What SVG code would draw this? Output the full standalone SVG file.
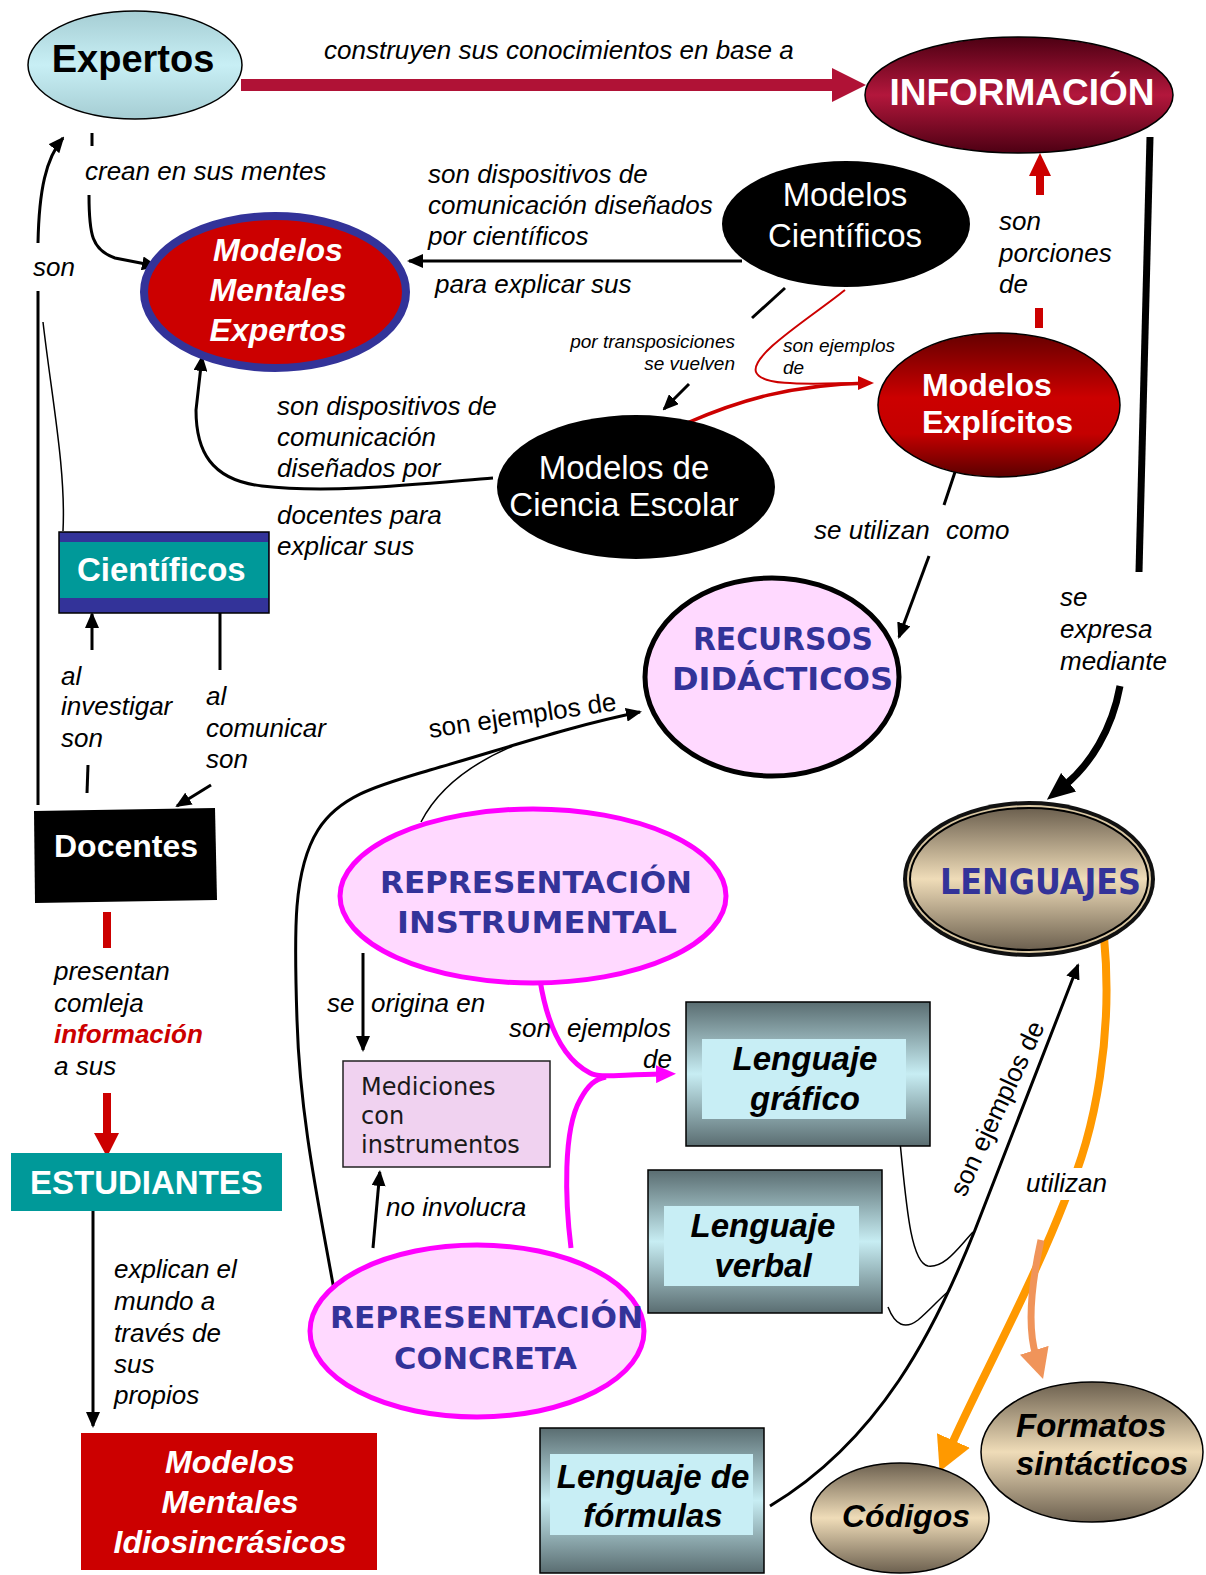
<svg xmlns="http://www.w3.org/2000/svg" width="1206" height="1575" viewBox="0 0 1206 1575">
<defs>
<linearGradient id="gBlue" x1="0" y1="0" x2="0" y2="1"><stop offset="0" stop-color="#a5cdd3"/><stop offset="0.5" stop-color="#c8eff5"/><stop offset="1" stop-color="#a5cdd3"/></linearGradient>
<linearGradient id="gInfo" x1="0" y1="0" x2="0" y2="1"><stop offset="0" stop-color="#4d0013"/><stop offset="0.5" stop-color="#b3173c"/><stop offset="1" stop-color="#4d0013"/></linearGradient>
<linearGradient id="gExpl" x1="0" y1="0" x2="0" y2="1"><stop offset="0" stop-color="#650000"/><stop offset="0.45" stop-color="#cc0000"/><stop offset="0.7" stop-color="#c40000"/><stop offset="1" stop-color="#5a0000"/></linearGradient>
<linearGradient id="gTan" x1="0" y1="0" x2="0" y2="1"><stop offset="0" stop-color="#6c604f"/><stop offset="0.5" stop-color="#efdcb8"/><stop offset="1" stop-color="#6c604f"/></linearGradient>
<linearGradient id="gSlate" x1="0" y1="0" x2="0" y2="1"><stop offset="0" stop-color="#5a6d71"/><stop offset="0.5" stop-color="#c7edf3"/><stop offset="1" stop-color="#5a6d71"/></linearGradient>
<marker id="mA" viewBox="0 0 16 14" refX="14" refY="7" markerWidth="16" markerHeight="14" orient="auto" markerUnits="userSpaceOnUse"><path d="M0,0 L16,7 L0,14 z" fill="#000"/></marker>
<marker id="mBig" viewBox="0 0 28 24" refX="6" refY="12" markerWidth="28" markerHeight="24" orient="auto" markerUnits="userSpaceOnUse"><path d="M0,0 L28,12 L0,24 z" fill="#000"/></marker>
<marker id="mMag" viewBox="0 0 20 18" refX="6" refY="9" markerWidth="20" markerHeight="18" orient="auto" markerUnits="userSpaceOnUse"><path d="M0,0 L20,9 L0,18 z" fill="#ff00ff"/></marker>
<marker id="mRed" viewBox="0 0 16 14" refX="10" refY="7" markerWidth="16" markerHeight="14" orient="auto" markerUnits="userSpaceOnUse"><path d="M0,0 L16,7 L0,14 z" fill="#cc0000"/></marker>
<marker id="mOr" viewBox="0 0 34 36" refX="6" refY="18" markerWidth="34" markerHeight="36" orient="auto" markerUnits="userSpaceOnUse"><path d="M0,0 L34,18 L0,36 z" fill="#ff9900"/></marker>
<marker id="mSal" viewBox="0 0 30 30" refX="6" refY="15" markerWidth="30" markerHeight="30" orient="auto" markerUnits="userSpaceOnUse"><path d="M0,0 L30,15 L0,30 z" fill="#f0945a"/></marker>
</defs>
<style>
text{font-family:"Liberation Sans",Arial,sans-serif}
.lbl{font-size:26px;font-style:italic;fill:#000}
.up{font-size:26px;fill:#000}
.sm{font-size:19px;font-style:italic;fill:#000}
.wb{font-weight:bold;fill:#fff}
.wbi{font-weight:bold;font-style:italic;fill:#fff;font-size:32px}
.wr{fill:#fff;font-size:33px}
.bbi{font-weight:bold;font-style:italic;fill:#000;font-size:33px}
.comic{font-family:"DejaVu Sans",sans-serif;font-weight:bold;fill:#333399}
.med{font-family:"DejaVu Sans",sans-serif;font-size:24px;fill:#1a1a1a}
.ln{fill:none;stroke:#000;stroke-width:3}
.thin{fill:none;stroke:#000;stroke-width:1.5}
.mag{fill:none;stroke:#ff00ff;stroke-width:5}
</style>
<rect width="1206" height="1575" fill="#fff"/>

<g id="connectors">
  <!-- Expertos -> INFORMACION -->
  <rect x="241" y="79" width="592" height="12" fill="#b01236"/>
  <polygon points="832,68 866,85 832,102" fill="#b01236"/>
  <text class="lbl" x="324" y="59">construyen sus conocimientos en base a</text>
  <!-- INFORMACION -> LENGUAJES -->
  <line x1="1150" y1="137" x2="1139" y2="572" stroke="#000" stroke-width="7"/>
  <text class="lbl" x="1060" y="606">se</text>
  <text class="lbl" x="1060" y="638">expresa</text>
  <text class="lbl" x="1060" y="670">mediante</text>
  <path d="M1120,686 C1112,730 1090,765 1064,786" fill="none" stroke="#000" stroke-width="7" marker-end="url(#mBig)"/>
  <!-- Expertos -> MME -->
  <line x1="92" y1="133" x2="92" y2="146" stroke="#000" stroke-width="3"/>
  <text class="lbl" x="85" y="180">crean en sus mentes</text>
  <path class="ln" d="M89,195 C89,235 92,250 115,258 L156,266" marker-end="url(#mA)"/>
  <!-- Modelos Cientificos -> MME -->
  <path class="ln" d="M742,261 L409,261" marker-end="url(#mA)"/>
  <text class="lbl" x="428" y="183">son dispositivos de</text>
  <text class="lbl" x="428" y="214">comunicación diseñados</text>
  <text class="lbl" x="428" y="245">por científicos</text>
  <text class="lbl" x="435" y="293">para explicar sus</text>
  <!-- Cientificos -> Ciencia escolar -->
  <line x1="785" y1="288" x2="752" y2="318" stroke="#000" stroke-width="3"/>
  <text class="sm" x="735" y="348" text-anchor="end">por transposiciones</text>
  <text class="sm" x="735" y="370" text-anchor="end">se vuelven</text>
  <path class="ln" d="M689,384 L664,409" marker-end="url(#mA)"/>
  <!-- red: son ejemplos de -> Modelos Explicitos -->
  <path d="M845,290 C810,318 750,355 756,372 C762,388 820,383 868,383" fill="none" stroke="#cc0000" stroke-width="2" marker-end="url(#mRed)"/>
  <path d="M687,423 C740,400 790,385 868,383" fill="none" stroke="#cc0000" stroke-width="3.5"/>
  <text class="sm" x="783" y="352">son ejemplos</text>
  <text class="sm" x="783" y="374">de</text>
  <!-- Explicitos -> INFORMACION -->
  <rect x="1035" y="308" width="8" height="20" fill="#cc0000"/>
  <rect x="1036" y="175" width="8" height="20" fill="#cc0000"/>
  <polygon points="1029,176 1040,153 1051,176" fill="#cc0000"/>
  <text class="lbl" x="999" y="230">son</text>
  <text class="lbl" x="999" y="262">porciones</text>
  <text class="lbl" x="999" y="293">de</text>
  <!-- Explicitos -> Recursos -->
  <line x1="958" y1="463" x2="944" y2="505" stroke="#000" stroke-width="3"/>
  <text class="lbl" x="814" y="539">se utilizan</text>
  <text class="lbl" x="946" y="539">como</text>
  <path class="ln" d="M929,556 L899,637" marker-end="url(#mA)"/>
  <!-- Docentes -> Expertos (son) -->
  <path class="ln" d="M38,805 L38,291"/>
  <path class="ln" d="M38,243 C39,190 46,158 63,138" marker-end="url(#mA)"/>
  <path class="thin" d="M43,322 C52,400 66,470 63,531"/>
  <text class="lbl" x="33" y="276">son</text>
  <!-- Ciencia escolar -> MME -->
  <path class="ln" d="M493,478 C420,484 330,494 262,486 C210,480 196,450 196,410 L202,357" marker-end="url(#mA)"/>
  <text class="lbl" x="277" y="415">son dispositivos de</text>
  <text class="lbl" x="277" y="446">comunicación</text>
  <text class="lbl" x="277" y="477">diseñados por</text>
  <text class="lbl" x="277" y="524">docentes para</text>
  <text class="lbl" x="277" y="555">explicar sus</text>
  <!-- Docentes -> Cientificos -->
  <path class="ln" d="M92,650 L92,614" marker-end="url(#mA)"/>
  <line x1="88" y1="765" x2="87" y2="793" stroke="#000" stroke-width="3"/>
  <text class="lbl" x="61" y="685">al</text>
  <text class="lbl" x="61" y="715">investigar</text>
  <text class="lbl" x="61" y="747">son</text>
  <line x1="220" y1="613" x2="220" y2="670" stroke="#000" stroke-width="3"/>
  <path class="ln" d="M211,785 L177,806" marker-end="url(#mA)"/>
  <text class="lbl" x="206" y="705">al</text>
  <text class="lbl" x="206" y="737">comunicar</text>
  <text class="lbl" x="206" y="768">son</text>
  <!-- Docentes -> Estudiantes -->
  <rect x="103" y="912" width="8" height="36" fill="#cc0000"/>
  <rect x="103" y="1093" width="8" height="42" fill="#cc0000"/>
  <polygon points="94,1133 107,1157 119,1133" fill="#cc0000"/>
  <text class="lbl" x="54" y="980">presentan</text>
  <text class="lbl" x="54" y="1012">comleja</text>
  <text class="lbl" x="54" y="1043" style="font-weight:bold;fill:#cc0000">información</text>
  <text class="lbl" x="54" y="1075">a sus</text>
  <!-- Estudiantes -> MMI -->
  <path class="ln" d="M93,1207 L93,1426" marker-end="url(#mA)"/>
  <text class="lbl" x="114" y="1278">explican el</text>
  <text class="lbl" x="114" y="1310">mundo a</text>
  <text class="lbl" x="114" y="1342">través de</text>
  <text class="lbl" x="114" y="1373">sus</text>
  <text class="lbl" x="114" y="1404">propios</text>
  <!-- Rep instrumental -> Mediciones -->
  <path class="ln" d="M363,953 L363,1050" marker-end="url(#mA)"/>
  <text class="lbl" x="327" y="1012">se</text>
  <text class="lbl" x="371" y="1012">origina en</text>
  <!-- Rep concreta -> Mediciones -->
  <path class="ln" d="M373,1248 L379.8,1172" marker-end="url(#mA)"/>
  <text class="lbl" x="386" y="1216">no involucra</text>
  <!-- son ejemplos de -> Recursos -->
  <path class="ln" d="M334,1290 C320,1210 300,1120 297,1020 C294,930 293,870 318,830 C340,795 380,785 430,770 C500,750 570,726 640,712" marker-end="url(#mA)"/>
  <path class="thin" d="M421,822 C440,785 475,762 513,746"/>
  <text class="up" transform="translate(430,738) rotate(-8.5)">son ejemplos de</text>
  <!-- magenta son ejemplos de -->
  <path class="mag" d="M540,980 C548,1030 565,1060 590,1073 C600,1078 612,1075 662,1074" marker-end="url(#mMag)"/>
  <path class="mag" d="M571,1248 C565,1200 563,1130 580,1100 C588,1085 595,1079 606,1077"/>
  <text class="lbl" x="509" y="1037">son</text>
  <text class="lbl" x="567" y="1037">ejemplos</text>
  <text class="lbl" x="672" y="1068" text-anchor="end">de</text>
  <!-- lenguajes examples -->
  <path class="thin" d="M900,1142 C906,1200 910,1262 928,1266 C945,1268 958,1248 973,1232"/>
  <path class="thin" d="M888,1307 C895,1325 905,1330 918,1320 C930,1310 940,1298 950,1290"/>
  <path class="ln" d="M770,1506 C880,1440 935,1330 975,1230 L1078,965" marker-end="url(#mA)"/>
  <text class="up" transform="translate(965,1198) rotate(-65)">son ejemplos de</text>
  <!-- utilizan -->
  <path d="M1104,937 C1113,1030 1097,1130 1065,1200 C1030,1290 978,1385 951,1446" fill="none" stroke="#ff9900" stroke-width="8" marker-end="url(#mOr)"/>
  <path d="M1041,1240 C1030,1290 1028,1330 1036,1356" fill="none" stroke="#f0945a" stroke-width="7" marker-end="url(#mSal)"/>
  <rect x="1022" y="1168" width="92" height="32" fill="#fff"/>
  <text class="lbl" x="1026" y="1192">utilizan</text>
</g>

<g id="n-expertos">
  <ellipse cx="135" cy="65" rx="107" ry="54" fill="url(#gBlue)" stroke="#000" stroke-width="1.5"/>
  <text class="wb" x="133" y="72" text-anchor="middle" style="fill:#000;font-size:38px">Expertos</text>
</g>
<g id="n-informacion">
  <ellipse cx="1019" cy="95" rx="154" ry="58" fill="url(#gInfo)" stroke="#000" stroke-width="1.5"/>
  <text class="wb" x="1022" y="105" text-anchor="middle" style="font-size:37px">INFORMACIÓN</text>
</g>
<g id="n-mme">
  <ellipse cx="275" cy="292" rx="131" ry="76" fill="#cc0000" stroke="#333399" stroke-width="8"/>
  <text class="wbi" x="278" y="261" text-anchor="middle">Modelos</text>
  <text class="wbi" x="278" y="301" text-anchor="middle">Mentales</text>
  <text class="wbi" x="278" y="341" text-anchor="middle">Expertos</text>
</g>
<g id="n-cientificos-modelos">
  <ellipse cx="846" cy="224" rx="124" ry="63" fill="#000"/>
  <text class="wr" x="845" y="206" text-anchor="middle">Modelos</text>
  <text class="wr" x="845" y="247" text-anchor="middle">Científicos</text>
</g>
<g id="n-explicitos">
  <ellipse cx="999" cy="405" rx="121" ry="72" fill="url(#gExpl)" stroke="#000" stroke-width="1.5"/>
  <text class="wb" x="922" y="396" style="font-size:32px">Modelos</text>
  <text class="wb" x="922" y="433" style="font-size:32px">Explícitos</text>
</g>
<g id="n-escolar">
  <ellipse cx="636" cy="487" rx="139" ry="72" fill="#000"/>
  <text class="wr" x="624" y="479" text-anchor="middle">Modelos de</text>
  <text class="wr" x="624" y="516" text-anchor="middle">Ciencia Escolar</text>
</g>
<g id="n-cientificos">
  <rect x="59" y="532" width="210" height="81" fill="#333399" stroke="#000" stroke-width="1.5"/>
  <rect x="60" y="542" width="208" height="56" fill="#009999"/>
  <text class="wb" x="77" y="581" style="font-size:33px">Científicos</text>
</g>
<g id="n-recursos">
  <ellipse cx="772" cy="677" rx="127" ry="99" fill="#ffd9ff" stroke="#000" stroke-width="5"/>
  <text class="comic" x="693" y="650" textLength="180" lengthAdjust="spacingAndGlyphs" style="font-size:32px">RECURSOS</text>
  <text class="comic" x="672" y="690" textLength="221" lengthAdjust="spacingAndGlyphs" style="font-size:32px">DIDÁCTICOS</text>
</g>
<g id="n-docentes">
  <polygon points="34,811 215,808 217,900 35,903" fill="#000"/>
  <text class="wb" x="54" y="857" style="font-size:32px">Docentes</text>
</g>
<g id="n-estudiantes">
  <rect x="11" y="1153" width="271" height="58" fill="#009999"/>
  <text class="wb" x="30" y="1194" style="font-size:33px">ESTUDIANTES</text>
</g>
<g id="n-mmi">
  <rect x="81" y="1433" width="296" height="137" fill="#cc0000"/>
  <text class="wbi" x="230" y="1473" text-anchor="middle">Modelos</text>
  <text class="wbi" x="230" y="1513" text-anchor="middle">Mentales</text>
  <text class="wbi" x="230" y="1553" text-anchor="middle">Idiosincrásicos</text>
</g>
<g id="n-rep-instrumental">
  <ellipse cx="533" cy="896" rx="193" ry="87" fill="#ffd9ff" stroke="#ff00ff" stroke-width="5"/>
  <text class="comic" x="380" y="893" textLength="312" lengthAdjust="spacingAndGlyphs" style="font-size:31px">REPRESENTACIÓN</text>
  <text class="comic" x="397" y="933" textLength="280" lengthAdjust="spacingAndGlyphs" style="font-size:31px">INSTRUMENTAL</text>
</g>
<g id="n-mediciones">
  <rect x="343" y="1061" width="207" height="106" fill="#f0d2f0" stroke="#222" stroke-width="1.5"/>
  <text class="med" x="361" y="1095">Mediciones</text>
  <text class="med" x="361" y="1124">con</text>
  <text class="med" x="361" y="1153">instrumentos</text>
</g>
<g id="n-rep-concreta">
  <ellipse cx="477" cy="1331" rx="167" ry="86" fill="#ffd9ff" stroke="#ff00ff" stroke-width="5"/>
  <text class="comic" x="330" y="1328" textLength="313" lengthAdjust="spacingAndGlyphs" style="font-size:31px">REPRESENTACIÓN</text>
  <text class="comic" x="394" y="1369" textLength="183" lengthAdjust="spacingAndGlyphs" style="font-size:31px">CONCRETA</text>
</g>
<g id="n-lenguajes">
  <ellipse cx="1029" cy="879" rx="126" ry="78" fill="#111"/>
  <ellipse cx="1029" cy="879" rx="122" ry="74" fill="#d9c7a3"/>
  <ellipse cx="1029" cy="879" rx="119" ry="71" fill="url(#gTan)" stroke="#000" stroke-width="2"/>
  <text class="comic" x="940" y="894" textLength="201" lengthAdjust="spacingAndGlyphs" style="font-size:35px">LENGUAJES</text>
</g>
<g id="n-grafico">
  <rect x="686" y="1002" width="244" height="144" fill="url(#gSlate)" stroke="#000" stroke-width="1.5"/>
  <rect x="702" y="1039" width="204" height="80" fill="#c8eef5"/>
  <text class="bbi" x="805" y="1070" text-anchor="middle">Lenguaje</text>
  <text class="bbi" x="805" y="1110" text-anchor="middle">gráfico</text>
</g>
<g id="n-verbal">
  <rect x="648" y="1170" width="234" height="143" fill="url(#gSlate)" stroke="#000" stroke-width="1.5"/>
  <rect x="664" y="1206" width="195" height="80" fill="#c8eef5"/>
  <text class="bbi" x="763" y="1237" text-anchor="middle">Lenguaje</text>
  <text class="bbi" x="763" y="1277" text-anchor="middle">verbal</text>
</g>
<g id="n-formulas">
  <rect x="540" y="1428" width="224" height="145" fill="url(#gSlate)" stroke="#000" stroke-width="1.5"/>
  <rect x="550" y="1454" width="203" height="81" fill="#c8eef5"/>
  <text class="bbi" x="653" y="1488" text-anchor="middle">Lenguaje de</text>
  <text class="bbi" x="653" y="1527" text-anchor="middle">fórmulas</text>
</g>
<g id="n-formatos">
  <ellipse cx="1092" cy="1452" rx="111" ry="70" fill="url(#gTan)" stroke="#000" stroke-width="1.5"/>
  <text class="bbi" x="1016" y="1437">Formatos</text>
  <text class="bbi" x="1016" y="1475">sintácticos</text>
</g>
<g id="n-codigos">
  <ellipse cx="900" cy="1518" rx="89" ry="55" fill="url(#gTan)" stroke="#000" stroke-width="1.5"/>
  <text class="bbi" x="842" y="1527" style="font-size:32px">Códigos</text>
</g>
</svg>
